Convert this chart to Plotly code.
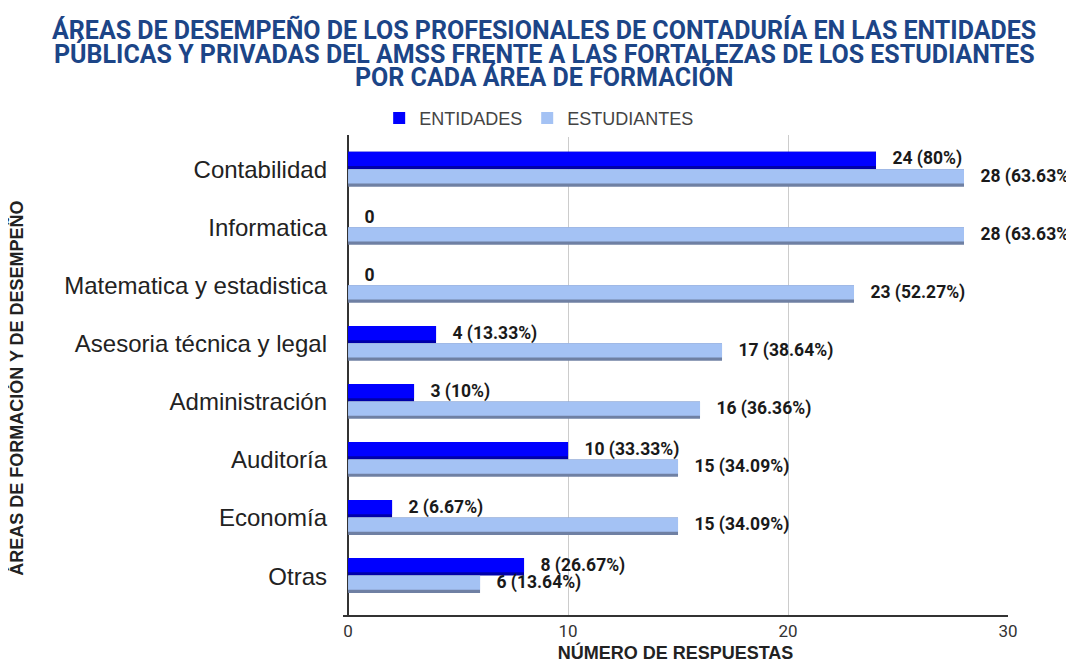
import plotly.graph_objects as go

categories = ["Contabilidad", "Informatica", "Matematica y estadistica",
              "Asesoria técnica y legal", "Administración", "Auditoría",
              "Economía", "Otras"]
entidades = [24, 0, 0, 4, 3, 10, 2, 8]
entidades_pct = ["80%", "", "", "13.33%", "10%", "33.33%", "6.67%", "26.67%"]
estudiantes = [28, 28, 23, 17, 16, 15, 15, 6]
estudiantes_pct = ["63.63%", "63.63%", "52.27%", "38.64%", "36.36%", "34.09%", "34.09%", "13.64%"]
x_ticks = [0, 10, 20, 30]
title_lines = ["ÁREAS DE DESEMPEÑO DE LOS PROFESIONALES DE CONTADURÍA EN LAS ENTIDADES",
               "PÚBLICAS Y PRIVADAS DEL AMSS FRENTE A LAS FORTALEZAS DE LOS ESTUDIANTES",
               "POR CADA ÁREA DE FORMACIÓN"]

PAD = "\u2002\u2005"  # small visual gap between bar end and label

def label(v, p):
    return PAD + (f"{v} ({p})" if p else f"{v}")

ent_text = [label(v, p) for v, p in zip(entidades, entidades_pct)]
est_text = [label(v, p) for v, p in zip(estudiantes, estudiantes_pct)]

lab_font = dict(family="Roboto", size=17.5, color="#1a1a1a", weight="bold")

fig = go.Figure()
# shadow (3D bottom edge) traces
fig.add_trace(go.Bar(y=categories, x=entidades, orientation="h", offset=-0.31, width=0.3,
                     marker=dict(color="#0000a8", line_width=0), showlegend=False,
                     hoverinfo="skip", cliponaxis=False))
fig.add_trace(go.Bar(y=categories, x=entidades, orientation="h", offset=-0.31, width=0.245,
                     marker=dict(color="#0000ff", line_width=0), name="ENTIDADES",
                     text=ent_text, textposition="outside", textfont=lab_font,
                     constraintext="none", hoverinfo="skip", cliponaxis=False))
fig.add_trace(go.Bar(y=categories, x=estudiantes, orientation="h", offset=-0.01, width=0.3,
                     marker=dict(color="#6f80a3", line_width=0), showlegend=False,
                     hoverinfo="skip", cliponaxis=False))
fig.add_trace(go.Bar(y=categories, x=estudiantes, orientation="h", offset=-0.01, width=0.245,
                     marker=dict(color="#a4c2f4", line_width=0), name="ESTUDIANTES",
                     text=est_text, textposition="outside", textfont=lab_font,
                     constraintext="none", hoverinfo="skip", cliponaxis=False))

fig.update_layout(
    width=1074, height=664,
    barmode="overlay",
    paper_bgcolor="white", plot_bgcolor="white",
    margin=dict(l=335, r=74, t=127, b=55),
    legend=dict(orientation="h", x=0.295, xanchor="center", y=1.035, yanchor="middle",
                font=dict(family="Liberation Sans", size=18, color="#444444"),
                itemsizing="constant", traceorder="normal"),
)
for line, ypos in zip(title_lines, [1.2178, 1.1691, 1.1214]):
    fig.add_annotation(
        text=line, xref="paper", yref="paper", x=0.3023, y=ypos,
        xanchor="center", yanchor="middle", showarrow=False,
        font=dict(family="Roboto", size=25, color="#1c4587", weight="bold"),
    )
fig.update_xaxes(
    range=[-0.23, 30], tickvals=x_ticks, ticktext=[str(t) for t in x_ticks],
    showgrid=True, gridcolor="#cccccc", gridwidth=1,
    zeroline=True, zerolinecolor="#333333", zerolinewidth=2,
    showline=True, linecolor="#333333", linewidth=2,
    tickfont=dict(family="Roboto", size=17, color="#333333"),
    title=dict(text="NÚMERO DE RESPUESTAS", standoff=6,
               font=dict(family="Liberation Sans", size=18, color="#222222", weight="bold")),
)
fig.update_yaxes(
    range=[7.67, -0.6], categoryorder="array", categoryarray=categories,
    showgrid=False, ticks="", ticklabelstandoff=15,
    tickfont=dict(family="Liberation Sans", size=24, color="#222222"),
)
fig.add_annotation(
    text="ÁREAS DE FORMACIÓN Y DE DESEMPEÑO", textangle=-90,
    xref="paper", yref="paper", x=-0.4905, y=0.473, xanchor="center", yanchor="middle",
    showarrow=False, font=dict(family="Liberation Sans", size=18, color="#222222", weight="bold"),
)

fig.write_html("out.html")
